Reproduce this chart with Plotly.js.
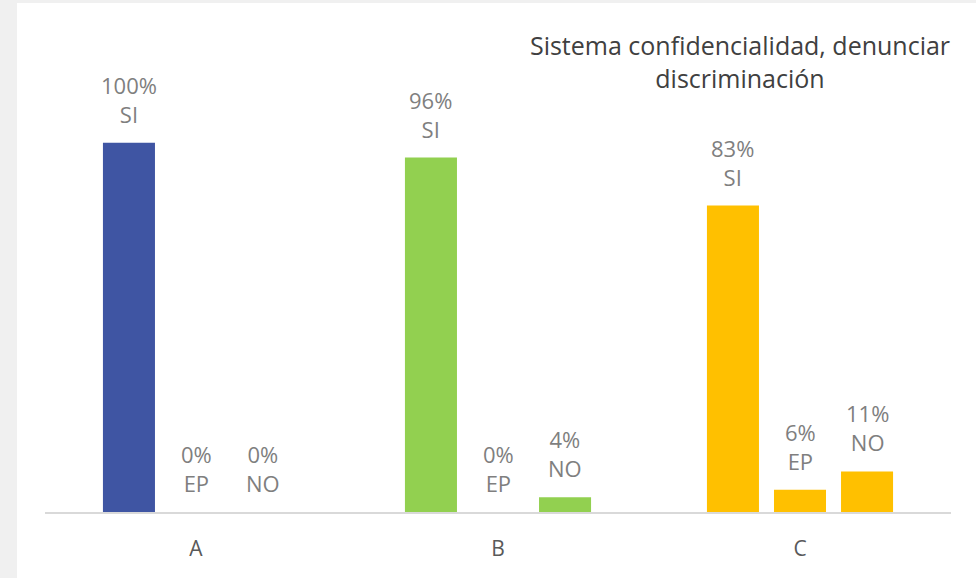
<!DOCTYPE html>
<html>
<head>
<meta charset="utf-8">
<script src="https://cdn.plot.ly/plotly-3.0.1.min.js"></script>
<style>
  html, body { margin:0; padding:0; background:#f0f0f0; width:976px; height:578px; overflow:hidden; }
  #chart { position:absolute; left:17px; top:3px; width:959px; height:575px; background:#ffffff; }
</style>
</head>
<body>
<div id="chart"></div>
<script>
const categories = ['A', 'B', 'C'];
const seriesNames = ['SI', 'EP', 'NO'];
const siValues = [100, 96, 83];
const epValues = [0, 0, 6];
const noValues = [0, 4, 11];
const categoryColors = ['#3F55A3', '#92D050', '#FFC000'];

const allValues = [siValues, epValues, noValues];

const BARGAP = 0.334;
const BARGROUPGAP = 0.224;

const traces = seriesNames.map((name, i) => ({
  type: 'bar',
  name: name,
  x: categories,
  y: allValues[i],
  marker: { color: categoryColors },
  hoverinfo: 'none'
}));

// value labels: placed at each bar through the axis scales
const slot = (1 - BARGAP) / seriesNames.length;
const annotations = [];
seriesNames.forEach((name, si) => {
  const offset = (si - (seriesNames.length - 1) / 2) * slot;
  categories.forEach((cat, ci) => {
    annotations.push({
      xref: 'x', yref: 'y',
      x: ci + offset,
      y: allValues[si][ci],
      text: allValues[si][ci] + '%<br>' + name,
      showarrow: false,
      xanchor: 'center',
      yanchor: 'bottom',
      yshift: 12,
      font: { family: 'Open Sans', size: 22, color: '#7f7f7f' }
    });
  });
});

const layout = {
  width: 959,
  height: 575,
  paper_bgcolor: '#ffffff',
  plot_bgcolor: '#ffffff',
  margin: { l: 28, r: 25, t: 66, b: 66 },
  barmode: 'group',
  bargap: BARGAP,
  bargroupgap: BARGROUPGAP,
  showlegend: false,
  annotations: annotations,
  title: {
    text: 'Sistema confidencialidad, denunciar<br>discriminación',
    font: { family: 'Open Sans', size: 25, color: '#404040' },
    x: 723 / 959,
    xanchor: 'center',
    xref: 'container',
    y: 1 - 52 / 575,
    yanchor: 'top',
    yref: 'container'
  },
  xaxis: {
    type: 'category',
    showline: true,
    linecolor: '#d9d9d9',
    linewidth: 2,
    showgrid: false,
    zeroline: false,
    ticks: 'outside',
    ticklen: 17,
    tickcolor: 'rgba(0,0,0,0)',
    tickfont: { family: 'Open Sans', size: 21, color: '#595959' }
  },
  yaxis: {
    range: [0, 120],
    visible: false,
    showgrid: false,
    zeroline: false
  }
};

Plotly.newPlot('chart', traces, layout, { displayModeBar: false, staticPlot: true });
</script>
</body>
</html>
